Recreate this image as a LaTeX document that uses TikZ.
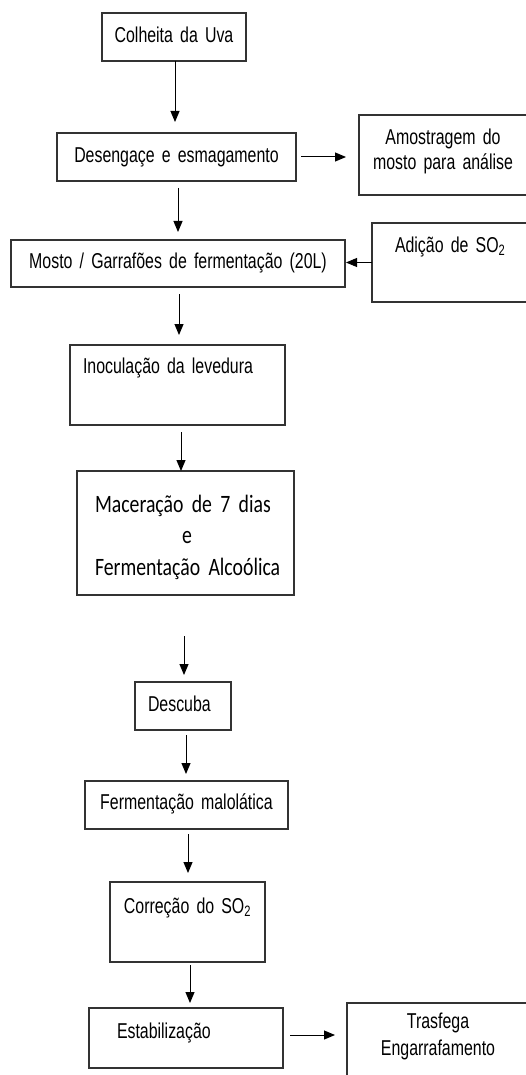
\documentclass[tikz,border=0pt]{standalone}
\usepackage{fontspec}
\setmainfont{Liberation Sans}[FakeStretch=0.74, WordSpace=0.77]
\newfontfamily\calibfont{Carlito}[FakeStretch=0.79, WordSpace=0.8]
\usetikzlibrary{arrows.meta}
\usetikzlibrary{calc}

\tikzset{
 stage/.style={draw=black!80, line width=1.4pt, anchor=north west, inner ysep=0pt, outer sep=0pt, align=center, font=\fontsize{21.5}{25}\selectfont},
 flow/.style={black, line width=1pt, -{Triangle[length=11pt,width=9pt]}}
}

\begin{document}
\begin{tikzpicture}[x=1pt,y=-1pt]
\useasboundingbox (0,0) rectangle (525,1075);
% main line of the process
\node[stage, inner xsep=4pt, text width=136pt, text height=30pt, text depth=18pt] (colheita) at (102,13) {Colheita da Uva};
\node[stage, inner xsep=4pt, text width=231pt, text height=30pt, text depth=18pt] (desen) at (57,133) {Desengaçe e esmagamento};
\node[stage, inner xsep=4pt, text width=326pt, text height=28pt, text depth=19pt] (mosto) at (11,240) {Mosto / Garrafões de fermentação (20L)};
\node[stage, align=left, inner xsep=13pt, text width=189pt, text height=28pt, text depth=52pt] (inoc) at (70,345) {Inoculação da levedura};
\node[stage, font=\calibfont\fontsize{25}{31.5}\selectfont, align=left, inner xsep=18pt, text width=181pt, text height=41pt, text depth=83pt] (mac) at (77,471) {\mbox{Maceração de 7 dias}\\\hspace*{87pt}e\\\mbox{Fermentação Alcoólica}};
\node[stage, align=left, inner xsep=13pt, text width=70pt, text height=29pt, text depth=19pt] (desc) at (135,682) {Descuba};
\node[stage, inner xsep=4pt, text width=195pt, text height=28pt, text depth=20pt] (ferm) at (85,781) {Fermentação malolática};
\node[stage, inner xsep=4pt, text width=147pt, text height=31pt, text depth=49pt] (corr) at (110,882) {Correção do SO\textsubscript{2}};
\node[stage, align=left, inner xsep=28pt, text width=138pt, text height=30pt, text depth=30pt] (estab) at (89,1008) {Estabilização};
% side boxes
\node[stage, inner xsep=4pt, text width=160pt, text height=30pt, text depth=50pt] (amostra) at (359,115) {Amostragem do\\mosto para análise};
\node[stage, align=left, inner xsep=23pt, text width=124pt, text height=29pt, text depth=50pt] (adicao) at (372,223) {Adição de SO\textsubscript{2}};
\node[stage, font=\fontsize{21.5}{27}\selectfont, inner xsep=4pt, text width=174pt, text height=25pt, text depth=67pt] (trasf) at (347,1003) {Trasfega\\Engarrafamento};

\foreach \a/\b/\dx/\sa/\sb in {colheita/desen/1pt/0pt/11pt, desen/mosto/1.5pt/7pt/8pt, mosto/inoc/1pt/7pt/10pt, inoc/mac/3.5pt/7pt/0pt, mac/desc/-1.5pt/41pt/7pt, desc/ferm/3pt/5pt/7pt, ferm/corr/1.5pt/5pt/9pt, corr/estab/2.5pt/3pt/5pt}
 \draw[flow, shorten <=\sa, shorten >=\sb] ([xshift=\dx]\a.south) -- ([xshift=\dx]\a.south |- \b.north);

\draw[flow, shorten <=5pt, shorten >=13pt] (desen.east) -- (desen.east -| amostra.west);
\draw[flow, shorten >=1pt] (adicao.west) -- (adicao.west -| mosto.east);
\draw[flow, shorten <=7pt, shorten >=12pt] ([yshift=3pt]estab.east) -- ([yshift=3pt]estab.east -| trasf.west);
\end{tikzpicture}
\end{document}
